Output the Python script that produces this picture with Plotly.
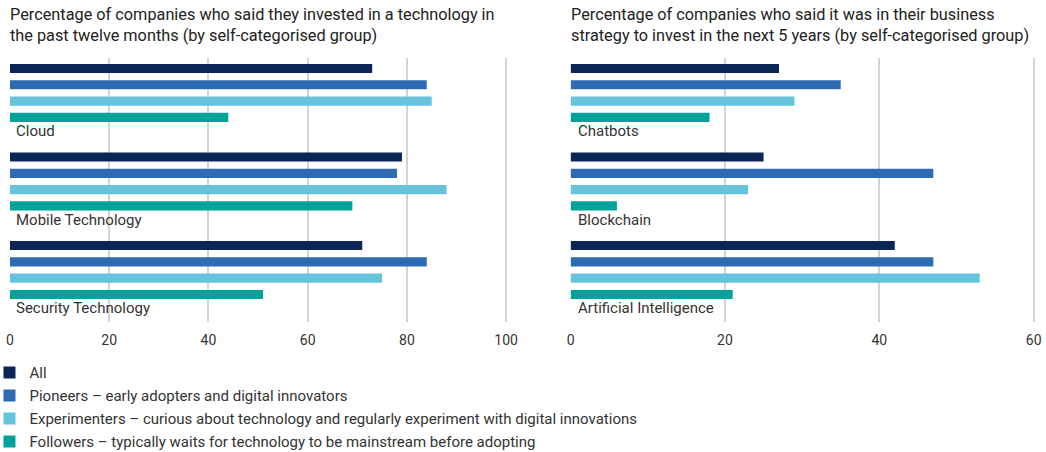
import plotly.graph_objects as go

series_names = [
    "All",
    "Pioneers – early adopters and digital innovators",
    "Experimenters – curious about technology and regularly experiment with digital innovations",
    "Followers – typically waits for technology to be mainstream before adopting",
]
colors = ["#0c2557", "#2e6bb3", "#66c3dc", "#00a29a"]

left_categories = ["Cloud", "Mobile Technology", "Security Technology"]
left_all = [73, 79, 71]
left_pioneers = [84, 78, 84]
left_experimenters = [85, 88, 75]
left_followers = [44, 69, 51]

right_categories = ["Chatbots", "Blockchain", "Artificial Intelligence"]
right_all = [27, 25, 42]
right_pioneers = [35, 47, 47]
right_experimenters = [29, 23, 53]
right_followers = [18, 6, 21]

left_title = "Percentage of companies who said they invested in a technology in<br>the past twelve months (by self-categorised group)"
right_title = "Percentage of companies who said it was in their business<br>strategy to invest in the next 5 years (by self-categorised group)"

left_ticks = [0, 20, 40, 60, 80, 100]
right_ticks = [0, 20, 40, 60]

GROUP_STEP = 5.43
LABEL_OFFSET = 3.85
FONT = "Roboto"
TEXT = "#333333"

fig = go.Figure()

left_series = [left_all, left_pioneers, left_experimenters, left_followers]
right_series = [right_all, right_pioneers, right_experimenters, right_followers]

for s, (name, color) in enumerate(zip(series_names, colors)):
    ypos = [g * GROUP_STEP + s for g in range(len(left_categories))]
    fig.add_trace(go.Bar(
        x=left_series[s], y=ypos, orientation="h", width=0.56,
        marker=dict(color=color, line=dict(width=0)), name=name,
        legendgroup=f"g{s}", xaxis="x", yaxis="y",
        hovertext=left_categories,
    ))
    ypos_r = [g * GROUP_STEP + s for g in range(len(right_categories))]
    fig.add_trace(go.Bar(
        x=right_series[s], y=ypos_r, orientation="h", width=0.56,
        marker=dict(color=color, line=dict(width=0)), name=name,
        legendgroup=f"g{s}", showlegend=False, xaxis="x2", yaxis="y2",
        hovertext=right_categories,
    ))

annotations = []
for g, cat in enumerate(left_categories):
    annotations.append(dict(x=0, y=g * GROUP_STEP + LABEL_OFFSET, xref="x", yref="y",
                            text=cat, showarrow=False, xanchor="left", yanchor="middle",
                            xshift=4, font=dict(family=FONT, size=15, color=TEXT)))
for g, cat in enumerate(right_categories):
    annotations.append(dict(x=0, y=g * GROUP_STEP + LABEL_OFFSET, xref="x2", yref="y2",
                            text=cat, showarrow=False, xanchor="left", yanchor="middle",
                            xshift=5, font=dict(family=FONT, size=15, color=TEXT)))

annotations.append(dict(x=0, y=1.21, xref="paper", yref="paper", text=left_title,
                        showarrow=False, xanchor="left", yanchor="top", align="left",
                        xshift=-2, font=dict(family=FONT, size=16.3, color="#222222")))
annotations.append(dict(x=0.5469, y=1.21, xref="paper", yref="paper", text=right_title,
                        showarrow=False, xanchor="left", yanchor="top", align="left",
                        xshift=-2, font=dict(family=FONT, size=16.3, color="#222222")))

yrange = [15.55, -0.644]
axis_common = dict(showgrid=True, gridcolor="#d4d4d4", gridwidth=1.5, zeroline=False,
                   showline=False, ticks="", tickfont=dict(family=FONT, size=14, color=TEXT),
                   fixedrange=True, automargin=False)

fig.update_layout(
    width=1046, height=452,
    margin=dict(l=10, r=10, t=58, b=130, autoexpand=False),
    paper_bgcolor="white", plot_bgcolor="white",
    barmode="overlay",
    showlegend=True,
    xaxis=dict(domain=[0, 0.4855], range=[0, 100.4], tickvals=left_ticks, **axis_common),
    xaxis2=dict(domain=[0.5464, 1.0], range=[0, 60.3], tickvals=right_ticks, **axis_common),
    yaxis=dict(range=yrange, showticklabels=False, showgrid=False, zeroline=False,
               fixedrange=True, automargin=False),
    yaxis2=dict(range=yrange, showticklabels=False, showgrid=False, zeroline=False,
                anchor="x2", fixedrange=True, automargin=False),
    legend=dict(x=-0.02, y=-0.13, xanchor="left", yanchor="top", orientation="v",
                font=dict(family=FONT, size=15, color=TEXT), tracegroupgap=0.5,
                itemwidth=30,
                itemclick=False, itemdoubleclick=False, bgcolor="rgba(0,0,0,0)"),
    annotations=annotations,
)
fig.update_xaxes(ticklabelstandoff=8)

fig.write_html("out.html", config={"displayModeBar": False},
               post_script="document.body.style.margin='0';document.body.style.overflow='hidden';")
